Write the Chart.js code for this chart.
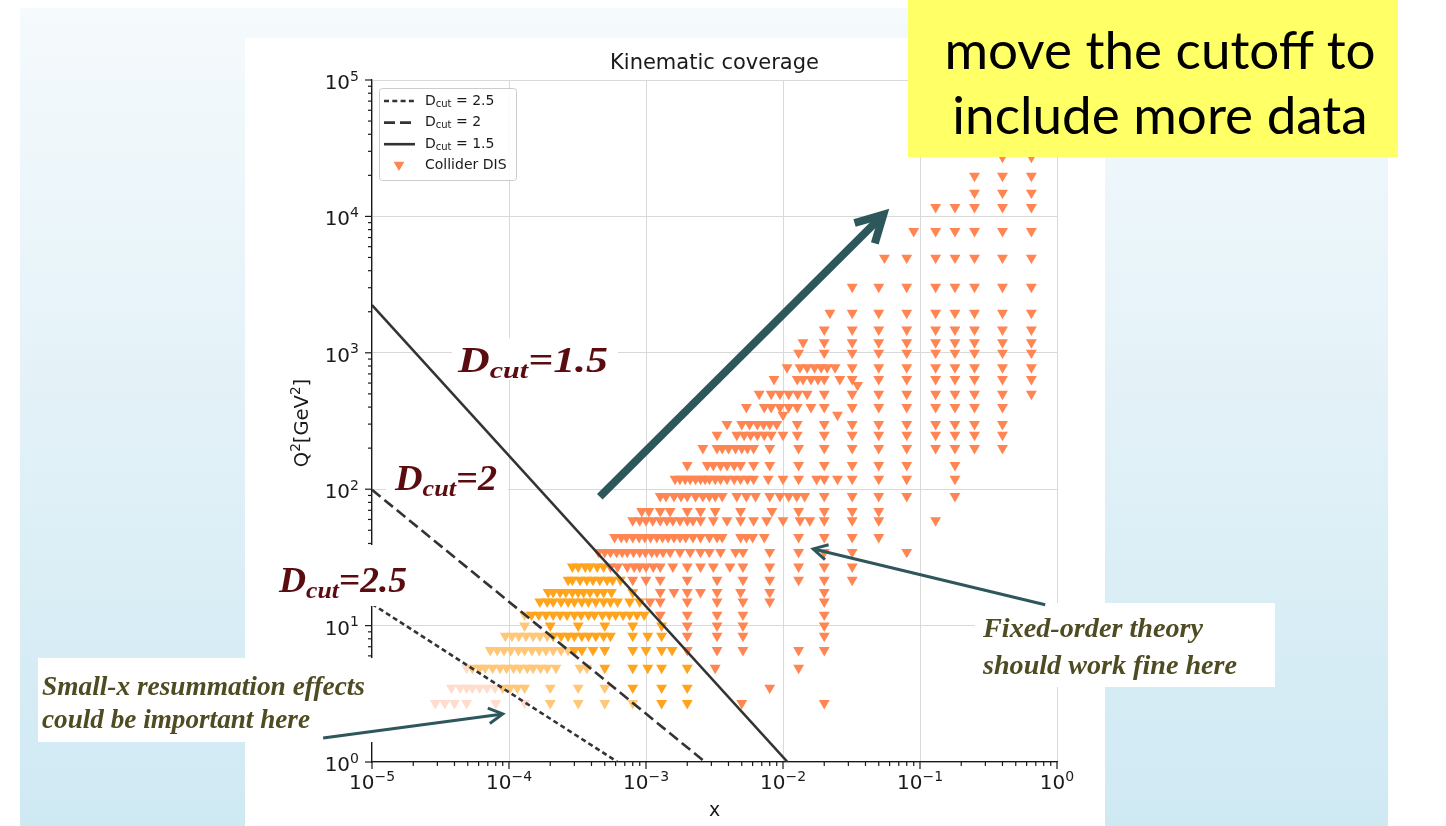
<!DOCTYPE html>
<html lang="en">
<head>
<meta charset="utf-8">
<title>Kinematic coverage</title>
<script src="https://cdn.jsdelivr.net/npm/chart.js@4.4.1/dist/chart.umd.min.js"></script>
<style>
  html, body { margin: 0; padding: 0; background: #fff; }
  body { position: relative; width: 1446px; height: 826px; overflow: hidden; }
  #slide { position: absolute; left: 20px; top: 8px; width: 1368px; height: 818px;
           background: linear-gradient(180deg, #f5fafc 0%, #e4f2f8 45%, #cfe9f3 100%); }
  #figure { position: absolute; left: 245px; top: 38px; width: 860px; height: 788px; background: #fff; }
  #chart { position: absolute; left: 0; top: 0; }
  #note { position: absolute; left: 908px; top: 0; width: 490px; height: 157px; box-sizing: border-box;
          padding-top: 16px; padding-left: 14px; background: #ffff66; color: #000; text-align: center;
          font-family: Lato, "Open Sans", sans-serif; font-size: 53px; line-height: 65px; }
</style>
</head>
<body>
<div id="slide"></div>
<div id="figure"></div>
<canvas id="chart" width="1446" height="826"></canvas>
<div id="note">move the cutoff to<br>include more data</div>
<script>
// axis decades
const xDecades = [1e-5, 1e-4, 1e-3, 1e-2, 1e-1, 1];
const yDecades = [1, 10, 100, 1e3, 1e4, 1e5];

// D_cut lines (end points, x / Q^2)
const dcut25 = [{x: 1e-5, y: 14.4}, {x: 6.2e-4, y: 1}];
const dcut2 = [{x: 1e-5, y: 99}, {x: 2.7e-3, y: 1}];
const dcut15 = [{x: 1e-5, y: 2240}, {x: 1.08e-2, y: 1}];

// collider DIS points, one row of x values per Q^2 bin
const q2Rows = [2.7, 3.5, 4.9, 6.6, 8.4, 10, 12, 15, 17.6, 21.6, 27, 34.6, 44.5, 59, 69, 89, 119, 150,
  200, 250, 300, 400, 500, 640, 780, 1000, 1190, 1480, 1960, 3040, 4970, 7800, 11700, 14900, 19800, 27300];
const xRows = [
  [2.9e-5, 3.4e-5, 4.0e-5, 4.9e-5, 8.0e-5, 1.3e-4, 2.0e-4, 3.2e-4, 5.0e-4, 8.0e-4, 1.3e-3, 2.0e-3, 5.0e-3, 2.0e-2],
  [3.8e-5, 4.4e-5, 4.9e-5, 5.4e-5, 6.1e-5, 6.9e-5, 7.9e-5, 9.0e-5, 1.02e-4, 1.15e-4, 1.3e-4, 2.0e-4, 3.2e-4, 5.0e-4, 8.0e-4, 1.3e-3, 2.0e-3, 8.0e-3],
  [4.9e-5, 5.4e-5, 6.1e-5, 6.7e-5, 7.6e-5, 8.6e-5, 9.6e-5, 1.08e-4, 1.2e-4, 1.36e-4, 1.5e-4, 1.7e-4, 1.9e-4, 2.2e-4, 3.3e-4, 3.7e-4, 5.0e-4, 8.0e-4, 1.03e-3, 1.3e-3, 2.0e-3, 3.2e-3, 1.3e-2],
  [7.3e-5, 8.2e-5, 9.2e-5, 1.03e-4, 1.17e-4, 1.3e-4, 1.47e-4, 1.66e-4, 1.86e-4, 2.1e-4, 2.4e-4, 2.7e-4, 3.0e-4, 3.4e-4, 4.1e-4, 5.0e-4, 8.0e-4, 1.0e-3, 1.3e-3, 1.55e-3, 2.0e-3, 3.3e-3, 5.1e-3, 1.3e-2, 2.0e-2],
  [9.4e-5, 1.05e-4, 1.18e-4, 1.33e-4, 1.5e-4, 1.68e-4, 1.9e-4, 2.1e-4, 2.4e-4, 2.7e-4, 3.0e-4, 3.4e-4, 3.8e-4, 4.3e-4, 4.9e-4, 5.5e-4, 8.0e-4, 1.03e-3, 1.3e-3, 2.0e-3, 3.3e-3, 5.1e-3, 2.0e-2],
  [1.3e-4, 2.0e-4, 3.2e-4, 5.0e-4, 8.0e-4, 1.3e-3, 2.0e-3, 3.3e-3, 5.1e-3, 2.0e-2],
  [1.3e-4, 1.46e-4, 1.65e-4, 1.86e-4, 2.1e-4, 2.36e-4, 2.65e-4, 3.0e-4, 3.36e-4, 3.8e-4, 4.2e-4, 4.8e-4, 5.4e-4, 6.0e-4, 6.8e-4, 7.6e-4, 8.6e-4, 9.7e-4, 1.27e-3, 2.0e-3, 3.3e-3, 5.1e-3, 2.0e-2],
  [1.68e-4, 1.9e-4, 2.1e-4, 2.4e-4, 2.7e-4, 3.0e-4, 3.4e-4, 3.8e-4, 4.3e-4, 4.9e-4, 5.5e-4, 6.2e-4, 7.6e-4, 9.0e-4, 1.07e-3, 1.27e-3, 2.0e-3, 3.3e-3, 5.1e-3, 8.0e-3, 2.0e-2],
  [1.93e-4, 2.1e-4, 2.36e-4, 2.6e-4, 2.9e-4, 3.2e-4, 3.5e-4, 3.9e-4, 4.4e-4, 4.9e-4, 5.6e-4, 8.0e-4, 1.27e-3, 1.6e-3, 2.0e-3, 2.5e-3, 3.3e-3, 4.9e-3, 8.0e-3, 2.0e-2],
  [2.7e-4, 2.9e-4, 3.3e-4, 3.7e-4, 4.1e-4, 4.6e-4, 5.2e-4, 5.7e-4, 6.5e-4, 8.0e-4, 1.0e-3, 1.27e-3, 2.0e-3, 3.3e-3, 5.1e-3, 8.0e-3, 1.3e-2, 2.0e-2, 3.2e-2],
  [2.9e-4, 3.2e-4, 3.6e-4, 3.9e-4, 4.4e-4, 4.9e-4, 5.5e-4, 6.2e-4, 7.3e-4, 8.2e-4, 9.0e-4, 1.0e-3, 1.13e-3, 1.27e-3, 1.57e-3, 2.0e-3, 2.5e-3, 3.1e-3, 4.1e-3, 5.1e-3, 8.0e-3, 1.3e-2, 2.0e-2, 3.2e-2],
  [4.5e-4, 5.0e-4, 5.5e-4, 6.1e-4, 6.7e-4, 7.3e-4, 8.1e-4, 9.0e-4, 9.9e-4, 1.1e-3, 1.2e-3, 1.33e-3, 1.5e-3, 1.77e-3, 2.1e-3, 2.5e-3, 2.9e-3, 3.5e-3, 4.5e-3, 5.1e-3, 8.0e-3, 1.3e-2, 2.0e-2, 3.2e-2, 8.0e-2],
  [5.9e-4, 6.6e-4, 7.2e-4, 8.0e-4, 8.9e-4, 9.8e-4, 1.08e-3, 1.2e-3, 1.32e-3, 1.45e-3, 1.6e-3, 1.77e-3, 1.95e-3, 2.2e-3, 2.5e-3, 2.9e-3, 3.3e-3, 3.6e-3, 4.9e-3, 5.4e-3, 6.0e-3, 7.3e-3, 1.3e-2, 2.0e-2, 3.2e-2, 5.0e-2],
  [8.0e-4, 9.0e-4, 1.0e-3, 1.12e-3, 1.27e-3, 1.42e-3, 1.57e-3, 1.77e-3, 2.0e-3, 2.2e-3, 2.5e-3, 3.1e-3, 3.9e-3, 4.9e-3, 6.1e-3, 7.6e-3, 1.0e-2, 1.33e-2, 1.57e-2, 2.0e-2, 3.2e-2, 5.0e-2, 1.3e-1],
  [9.3e-4, 1.05e-3, 1.27e-3, 1.5e-3, 2.0e-3, 2.5e-3, 3.2e-3, 4.9e-3, 8.3e-3, 1.3e-2, 2.0e-2, 3.2e-2, 5.0e-2],
  [1.27e-3, 1.4e-3, 1.6e-3, 1.8e-3, 2.0e-3, 2.3e-3, 2.6e-3, 2.9e-3, 3.2e-3, 3.6e-3, 4.6e-3, 5.4e-3, 6.3e-3, 8.0e-3, 9.5e-3, 1.1e-2, 1.26e-2, 1.44e-2, 2.0e-2, 3.2e-2, 5.0e-2, 8.0e-2, 1.8e-1],
  [1.63e-3, 1.77e-3, 1.93e-3, 2.1e-3, 2.3e-3, 2.5e-3, 2.7e-3, 2.9e-3, 3.2e-3, 3.5e-3, 3.9e-3, 4.4e-3, 4.9e-3, 5.5e-3, 6.1e-3, 7.8e-3, 1.0e-2, 1.3e-2, 1.76e-2, 2.0e-2, 2.5e-2, 3.2e-2, 5.0e-2, 8.0e-2, 1.8e-1],
  [2.0e-3, 2.8e-3, 3.1e-3, 3.5e-3, 3.9e-3, 4.4e-3, 4.9e-3, 6.1e-3, 8.0e-3, 1.3e-2, 2.0e-2, 3.2e-2, 5.0e-2, 8.0e-2, 1.8e-1],
  [2.6e-3, 3.3e-3, 3.6e-3, 4.0e-3, 4.5e-3, 5.0e-3, 5.5e-3, 6.1e-3, 8.0e-3, 1.3e-2, 2.0e-2, 3.2e-2, 5.0e-2, 8.0e-2, 1.3e-1, 1.8e-1, 2.5e-1, 4.0e-1],
  [3.3e-3, 4.6e-3, 5.2e-3, 5.8e-3, 6.5e-3, 7.3e-3, 8.2e-3, 1.0e-2, 1.27e-2, 2.0e-2, 3.2e-2, 5.0e-2, 8.0e-2, 1.3e-1, 1.8e-1, 2.5e-1, 4.0e-1],
  [3.9e-3, 5.0e-3, 5.7e-3, 6.5e-3, 7.2e-3, 8.0e-3, 9.0e-3, 1.27e-2, 2.0e-2, 3.2e-2, 5.0e-2, 8.0e-2, 1.3e-1, 1.8e-1, 2.5e-1, 4.0e-1],
  [5.4e-3, 7.3e-3, 8.2e-3, 9.5e-3, 1.1e-2, 1.27e-2, 1.6e-2, 2.0e-2, 3.2e-2, 5.0e-2, 8.0e-2, 1.3e-1, 1.8e-1, 2.5e-1, 4.0e-1],
  [6.7e-3, 8.2e-3, 9.5e-3, 1.1e-2, 1.28e-2, 1.5e-2, 2.0e-2, 3.2e-2, 5.0e-2, 8.0e-2, 1.3e-1, 1.8e-1, 2.5e-1, 4.0e-1, 6.5e-1],
  [8.6e-3, 1.27e-2, 1.4e-2, 1.6e-2, 1.8e-2, 2.0e-2, 2.6e-2, 3.2e-2, 5.0e-2, 8.0e-2, 1.3e-1, 1.8e-1, 2.5e-1, 4.0e-1, 6.5e-1],
  [1.07e-2, 1.33e-2, 1.5e-2, 1.7e-2, 1.9e-2, 2.1e-2, 2.4e-2, 3.2e-2, 5.0e-2, 8.0e-2, 1.3e-1, 1.8e-1, 2.5e-1, 4.0e-1, 6.5e-1],
  [1.3e-2, 2.0e-2, 3.2e-2, 5.0e-2, 8.0e-2, 1.3e-1, 1.8e-1, 2.5e-1, 4.0e-1, 6.5e-1],
  [1.4e-2, 2.0e-2, 3.2e-2, 5.0e-2, 8.0e-2, 1.3e-1, 1.8e-1, 2.5e-1, 4.0e-1, 6.5e-1],
  [2.0e-2, 3.2e-2, 5.0e-2, 8.0e-2, 1.3e-1, 1.8e-1, 2.5e-1, 4.0e-1, 6.5e-1],
  [2.2e-2, 3.2e-2, 5.0e-2, 8.0e-2, 1.3e-1, 1.8e-1, 2.5e-1, 4.0e-1, 6.5e-1],
  [3.2e-2, 5.0e-2, 8.0e-2, 1.3e-1, 1.8e-1, 2.5e-1, 4.0e-1, 6.5e-1],
  [5.5e-2, 8.0e-2, 1.3e-1, 1.8e-1, 2.5e-1, 4.0e-1, 6.5e-1],
  [9.0e-2, 1.3e-1, 1.8e-1, 2.5e-1, 4.0e-1, 6.5e-1],
  [1.3e-1, 1.8e-1, 2.5e-1, 4.0e-1, 6.5e-1],
  [2.5e-1, 4.0e-1, 6.5e-1],
  [2.5e-1, 4.0e-1, 6.5e-1],
  [4.0e-1, 6.5e-1]
];
const extraPoints = [{x: 1.0e-2, y: 350}, {x: 2.5e-2, y: 350}, {x: 3.5e-2, y: 580}];

// annotation arrows, in data coordinates
const arrows = [
  {from: {x: 4.6e-4, y: 88}, to: {x: 5.4e-2, y: 10300}, width: 8, head: 30},
  {from: {x: 4.4e-6, y: 1.5}, to: {x: 9.0e-5, y: 2.25}, width: 3, head: 16},
  {from: {x: 0.82, y: 14.2}, to: {x: 1.66e-2, y: 36.5}, width: 3, head: 16}
];

const coral = '#ff8552', orange = '#ffa41c', lightOrange = '#ffc777', peach = '#ffdccb';
const lineColor = '#333';
const arrowColor = '#2e575c';

function lineLogQ(line, lx) {
  const ax = Math.log10(line[0].x), ay = Math.log10(line[0].y);
  const bx = Math.log10(line[1].x), by = Math.log10(line[1].y);
  return ay + (by - ay) * (lx - ax) / (bx - ax);
}

// colour of a point depends on which D_cut band it falls in
function zoneColor(p) {
  const lx = Math.log10(p.x), ly = Math.log10(p.y);
  if (ly >= lineLogQ(dcut15, lx)) return coral;
  if (ly >= lineLogQ(dcut2, lx)) return orange;
  if (ly >= lineLogQ(dcut25, lx)) return lightOrange;
  return peach;
}

const points = [];
q2Rows.forEach((q, i) => xRows[i].forEach(x => points.push({x: x, y: q})));
extraPoints.forEach(p => points.push(p));

function expParts(v) {
  const e = Math.round(Math.log10(v));
  return [{t: '10'}, {t: (e < 0 ? '\u2212' : '') + Math.abs(e), sup: true}];
}

function drawParts(ctx, parts, x, y, size, align) {
  let w = 0;
  parts.forEach(p => {
    ctx.font = (p.sup ? size * 0.7 : size) + 'px "DejaVu Sans"';
    p.w = ctx.measureText(p.t).width;
    w += p.w;
  });
  let cx = align === 'center' ? x - w / 2 : align === 'right' ? x - w : x;
  ctx.textAlign = 'left';
  parts.forEach(p => {
    ctx.font = (p.sup ? size * 0.7 : size) + 'px "DejaVu Sans"';
    ctx.fillText(p.t, cx, p.sup ? y - size * 0.42 : y);
    cx += p.w;
  });
}

function stretchText(ctx, text, x, y, width) {
  const m = ctx.measureText(text).width;
  ctx.save();
  ctx.translate(x, y);
  ctx.scale(width / m, 1);
  ctx.fillText(text, 0, 0);
  ctx.restore();
}

function downTriangle(ctx, x, y, r, color) {
  ctx.fillStyle = color;
  ctx.beginPath();
  ctx.moveTo(x - r * 0.866, y - r * 0.5);
  ctx.lineTo(x + r * 0.866, y - r * 0.5);
  ctx.lineTo(x, y + r);
  ctx.closePath();
  ctx.fill();
}

const cutLabels = [
  {value: '1.5', left: 458, base: 372, width: 150, box: [452, 338, 166, 42]},
  {value: '2', left: 395, base: 490, width: 102, box: [386, 456, 122, 36]},
  {value: '2.5', left: 279, base: 592, width: 128, box: [270, 545, 142, 61]}
];

const noteBoxes = [
  {box: [38, 658, 337, 84], left: 42, lines: [
    {t: 'Small-x resummation effects', base: 695, width: 323},
    {t: 'could be important here', base: 728, width: 268}]},
  {box: [975, 603, 300, 84], left: 983, lines: [
    {t: 'Fixed-order theory', base: 637, width: 220},
    {t: 'should work fine here', base: 674, width: 254}]}
];

const legendRows = [
  {value: '2.5', dash: [5, 3.3]},
  {value: '2', dash: [11, 5]},
  {value: '1.5', dash: []},
  {label: 'Collider DIS'}
];

const decorPlugin = {
  id: 'decor',
  afterDraw(chart) {
    const ctx = chart.ctx;
    const xs = chart.scales.x, ys = chart.scales.y;
    const a = chart.chartArea;
    ctx.save();
    ctx.fillStyle = '#1a1a1a';
    ctx.textBaseline = 'alphabetic';

    // title and axis titles
    ctx.font = '21px "DejaVu Sans"';
    ctx.textAlign = 'center';
    ctx.fillText('Kinematic coverage', (a.left + a.right) / 2, a.top - 11);
    ctx.font = '19px "DejaVu Sans"';
    ctx.fillText('x', (a.left + a.right) / 2, a.bottom + 54);
    ctx.save();
    ctx.translate(308, 423);
    ctx.rotate(-Math.PI / 2);
    drawParts(ctx, [{t: 'Q'}, {t: '2', sup: true}, {t: '[GeV'}, {t: '2', sup: true}, {t: ']'}], 0, 0, 19.5, 'center');
    ctx.restore();

    // tick marks and labels
    ctx.strokeStyle = '#1a1a1a';
    ctx.lineWidth = 1.2;
    const tick = (x1, y1, x2, y2) => { ctx.beginPath(); ctx.moveTo(x1, y1); ctx.lineTo(x2, y2); ctx.stroke(); };
    xDecades.forEach((d, i) => {
      const px = xs.getPixelForValue(d);
      tick(px, a.bottom, px, a.bottom + 7);
      if (i < xDecades.length - 1) {
        for (let m = 2; m < 10; m++) {
          const p = xs.getPixelForValue(d * m);
          tick(p, a.bottom, p, a.bottom + 4);
        }
      }
      drawParts(ctx, expParts(d), px, a.bottom + 27, 20, 'center');
    });
    yDecades.forEach((d, i) => {
      const py = ys.getPixelForValue(d);
      tick(a.left, py, a.left - 7, py);
      if (i < yDecades.length - 1) {
        for (let m = 2; m < 10; m++) {
          const p = ys.getPixelForValue(d * m);
          tick(a.left, p, a.left - 4, p);
        }
      }
      drawParts(ctx, expParts(d), a.left - 13, py + 9, 20, 'right');
    });

    // legend
    const lx = a.left + 7, ly = a.top + 8, lw = 137, lh = 92;
    ctx.fillStyle = 'rgba(255,255,255,0.85)';
    ctx.strokeStyle = '#cccccc';
    ctx.lineWidth = 1;
    ctx.beginPath();
    ctx.roundRect(lx + 0.5, ly + 0.5, lw, lh, 3);
    ctx.fill();
    ctx.stroke();
    legendRows.forEach((row, i) => {
      const y = ly + 13 + i * 21.6;
      if (row.label) {
        downTriangle(ctx, lx + 20, y - 1, 6.2, coral);
        ctx.fillStyle = '#1a1a1a';
        ctx.font = '14px "DejaVu Sans"';
        ctx.textBaseline = 'middle';
        ctx.fillText(row.label, lx + 46, y);
        return;
      }
      ctx.strokeStyle = lineColor;
      ctx.lineWidth = 2.6;
      ctx.setLineDash(row.dash);
      tick(lx + 5, y, lx + 36, y);
      ctx.setLineDash([]);
      ctx.fillStyle = '#1a1a1a';
      ctx.textBaseline = 'middle';
      ctx.font = '14px "DejaVu Sans"';
      ctx.fillText('D', lx + 46, y);
      let cx = lx + 46 + ctx.measureText('D').width;
      ctx.font = '10px "DejaVu Sans"';
      ctx.fillText('cut', cx, y + 3);
      cx += ctx.measureText('cut').width;
      ctx.font = '14px "DejaVu Sans"';
      ctx.fillText(' = ' + row.value, cx, y);
    });
    ctx.textBaseline = 'alphabetic';

    // D_cut labels on white patches
    const big = 'italic bold 35px "Liberation Serif"', small = 'italic bold 24px "Liberation Serif"';
    cutLabels.forEach(lab => {
      ctx.fillStyle = '#fff';
      ctx.fillRect(lab.box[0], lab.box[1], lab.box[2], lab.box[3]);
      ctx.font = big;
      const wD = ctx.measureText('D').width, wEq = ctx.measureText('=' + lab.value).width;
      ctx.font = small;
      const wC = ctx.measureText('cut').width;
      ctx.save();
      ctx.translate(lab.left, lab.base);
      ctx.scale(lab.width / (wD + wC + wEq), 1);
      ctx.fillStyle = '#5b0c10';
      ctx.font = big;
      ctx.fillText('D', 0, 0);
      ctx.font = small;
      ctx.fillText('cut', wD, 6);
      ctx.font = big;
      ctx.fillText('=' + lab.value, wD + wC, 0);
      ctx.restore();
    });

    // comment boxes
    noteBoxes.forEach(nb => {
      ctx.fillStyle = '#fff';
      ctx.fillRect(nb.box[0], nb.box[1], nb.box[2], nb.box[3]);
      ctx.fillStyle = '#4f4b22';
      ctx.font = 'italic bold 27px "Liberation Serif"';
      nb.lines.forEach(l => stretchText(ctx, l.t, nb.left, l.base, l.width));
    });

    // arrows
    ctx.strokeStyle = arrowColor;
    ctx.lineJoin = 'miter';
    arrows.forEach(ar => {
      const x1 = xs.getPixelForValue(ar.from.x), y1 = ys.getPixelForValue(ar.from.y);
      const x2 = xs.getPixelForValue(ar.to.x), y2 = ys.getPixelForValue(ar.to.y);
      const ang = Math.atan2(y2 - y1, x2 - x1);
      ctx.lineWidth = ar.width;
      ctx.lineCap = 'butt';
      ctx.beginPath();
      ctx.moveTo(x1, y1);
      ctx.lineTo(x2 - Math.cos(ang) * ar.width * 0.5, y2 - Math.sin(ang) * ar.width * 0.5);
      ctx.stroke();
      const spread = 0.5;
      ctx.beginPath();
      ctx.moveTo(x2 - ar.head * Math.cos(ang - spread), y2 - ar.head * Math.sin(ang - spread));
      ctx.lineTo(x2, y2);
      ctx.lineTo(x2 - ar.head * Math.cos(ang + spread), y2 - ar.head * Math.sin(ang + spread));
      ctx.stroke();
    });
    ctx.restore();
  }
};

const lineSet = (label, data, dash) => ({
  label: label, data: data, showLine: true, borderColor: lineColor, borderWidth: 2.6,
  borderDash: dash, pointRadius: 0, pointHoverRadius: 0, fill: false, order: 0
});

new Chart(document.getElementById('chart'), {
  type: 'scatter',
  data: {
    datasets: [
      lineSet('Dcut = 2.5', dcut25, [5, 3.3]),
      lineSet('Dcut = 2', dcut2, [11, 5]),
      lineSet('Dcut = 1.5', dcut15, []),
      {
        label: 'Collider DIS', data: points, order: 1,
        pointStyle: 'triangle', pointRotation: 180, pointRadius: 6.3, pointHoverRadius: 6.3,
        pointBorderWidth: 0, pointBackgroundColor: ctx => ctx.raw ? zoneColor(ctx.raw) : coral
      }
    ]
  },
  options: {
    responsive: false,
    animation: false,
    events: [],
    layout: {padding: {left: 245, right: 389, top: 80, bottom: 0}},
    plugins: {legend: {display: false}, title: {display: false}, tooltip: {enabled: false}},
    scales: {
      x: {
        type: 'logarithmic', min: 1e-5, max: 1,
        afterBuildTicks: s => { s.ticks = xDecades.map(v => ({value: v})); },
        afterFit: s => { s.height = 64; },
        ticks: {display: false},
        grid: {color: '#d9d9d9', lineWidth: 1, drawTicks: false},
        border: {color: '#1a1a1a', width: 1.3}
      },
      y: {
        type: 'logarithmic', min: 1, max: 1e5,
        afterBuildTicks: s => { s.ticks = yDecades.map(v => ({value: v})); },
        afterFit: s => { s.width = 127; },
        ticks: {display: false},
        grid: {color: '#d9d9d9', lineWidth: 1, drawTicks: false},
        border: {color: '#1a1a1a', width: 1.3}
      }
    }
  },
  plugins: [decorPlugin]
});
</script>
</body>
</html>
